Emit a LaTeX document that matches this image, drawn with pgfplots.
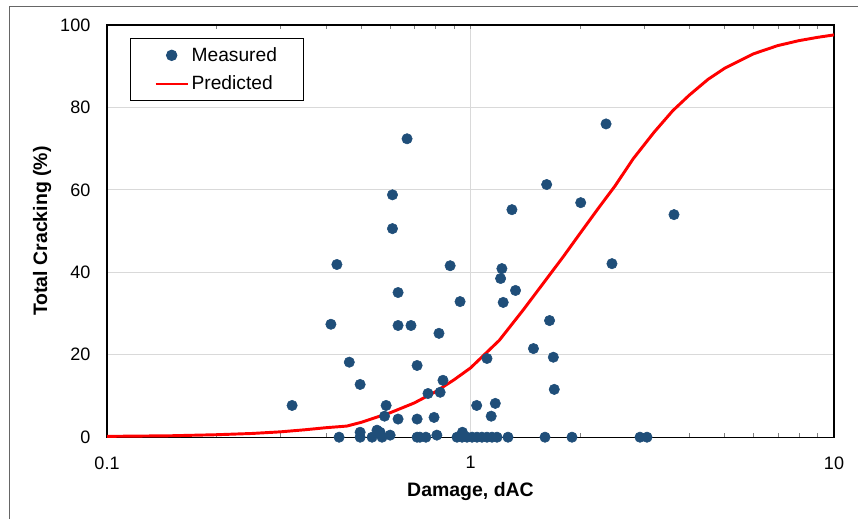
\documentclass[border=0pt]{standalone}
\usepackage{pgfplots}
\pgfplotsset{compat=1.18}
\usepackage{fontspec}
\setmainfont{Liberation Sans}

\definecolor{meas}{RGB}{31,78,121}
\pgfplotsset{
    measleg/.style={legend image code/.code={\draw[##1] plot coordinates {(12pt,0pt)};}},
    predleg/.style={legend image code/.code={\draw[##1, line width=1.8pt] (0pt,0pt) -- (24pt,0pt);}},
}

\begin{document}
\begin{tikzpicture}
\begin{axis}[
    scale only axis,
    width=545pt, height=309pt,
    xmode=log,
    xmin=0.1, xmax=10,
    ymin=0, ymax=100,
    xtick={0.1,1,10},
    xticklabels={0.1,1,10},
    ytick={0,20,40,60,80,100},
    major tick length=0pt,
    xmajorgrids=true, ymajorgrids=true,
    grid style={color=black!15, line width=0.75pt},
    axis line style={black, line width=0.9pt},
    tick label style={font=\fontsize{13.5}{16}\selectfont},
    /pgf/number format/assume math mode=true,
    yticklabel style={xshift=-9pt},
    xticklabel style={yshift=-11pt},
    xlabel={\textbf{Damage, dAC}},
    ylabel={\textbf{Total Cracking (\%)}},
    label style={font=\fontsize{14.6}{16}\selectfont},
    xlabel style={at={(rel axis cs:0.5,-0.131)}, anchor=center},
    ylabel style={at={(rel axis cs:-0.0894,0.5)}, anchor=center},
    legend cell align=left,
    legend style={at={(rel axis cs:0.0316,0.968)}, anchor=north west,
        draw=black, line width=0.75pt, font=\fontsize{14.4}{16}\selectfont,
        inner xsep=18pt, inner ysep=4.5pt, row sep=5.5pt},
    clip=false,
]
\addplot[only marks, mark=*, mark size=3.9pt, color=meas, mark options={draw=meas, fill=meas}, measleg]
coordinates {
(0.323,7.7) (0.413,27.4) (0.429,41.9) (0.464,18.2) (0.497,12.8)
(0.586,7.7) (0.580,5.1) (0.632,4.4) (0.713,4.4) (0.794,4.8)
(0.840,13.8) (0.764,10.6) (0.825,10.9) (0.610,50.6) (0.610,58.8)
(0.669,72.4) (0.632,35.1) (0.936,32.9) (0.632,27.1) (0.686,27.1)
(0.819,25.2) (0.713,17.4) (0.879,41.6) (1.04,7.7) (1.17,8.2)
(1.14,5.1) (1.11,19.1) (1.22,40.9) (1.21,38.5) (1.33,35.6)
(1.23,32.7) (1.30,55.2) (1.62,61.3) (2.01,56.9) (2.36,76.0)
(2.45,42.1) (3.63,54.0) (1.65,28.3) (1.49,21.5) (1.69,19.4)
(1.70,11.6)
(0.497,1.2) (0.553,1.7) (0.564,1.2) (0.601,0.5) (0.808,0.5) (0.950,1.2)
(0.435,0) (0.497,0) (0.536,0) (0.571,0) (0.713,0) (0.726,0) (0.754,0)
(0.918,0) (0.948,0) (0.978,0) (1.01,0) (1.042,0) (1.075,0) (1.11,0)
(1.146,0) (1.183,0) (1.268,0) (1.603,0) (1.902,0) (2.926,0) (3.059,0)
};
\addlegendentry{Measured}
\addplot[color=red, line width=2.2pt, mark=none, line join=round, predleg]
coordinates {
(0.1,0.2) (0.15,0.35) (0.2,0.6) (0.25,0.9) (0.3,1.3) (0.35,1.8)
(0.4,2.3) (0.457,2.7) (0.5,3.6) (0.6,5.9) (0.7,8.3) (0.8,11.0)
(0.9,13.9) (1.0,16.8) (1.2,23.5) (1.4,31.0) (1.6,37.8) (1.8,43.8)
(2.0,49.4) (2.25,55.6) (2.5,61.0) (2.8,67.5) (3.2,74.0) (3.6,79.2)
(4.0,83.0) (4.5,86.8) (5.0,89.5) (6.0,93.0) (7.0,95.0) (8.0,96.2)
(9.0,97.0) (10,97.6)
};
\addlegendentry{Predicted}
\coordinate (bl) at (rel axis cs:-0.1472,-0.199);
\coordinate (tr) at (rel axis cs:1.033,1.0607);
\draw[black!60, line width=0.75pt] (rel axis cs:-0.1348,-0.199) -- (rel axis cs:-0.1348,1.0461) -- (rel axis cs:1.033,1.0461);
\end{axis}
\pgfresetboundingbox
\path[use as bounding box] (bl) rectangle (tr);
\end{tikzpicture}
\end{document}
